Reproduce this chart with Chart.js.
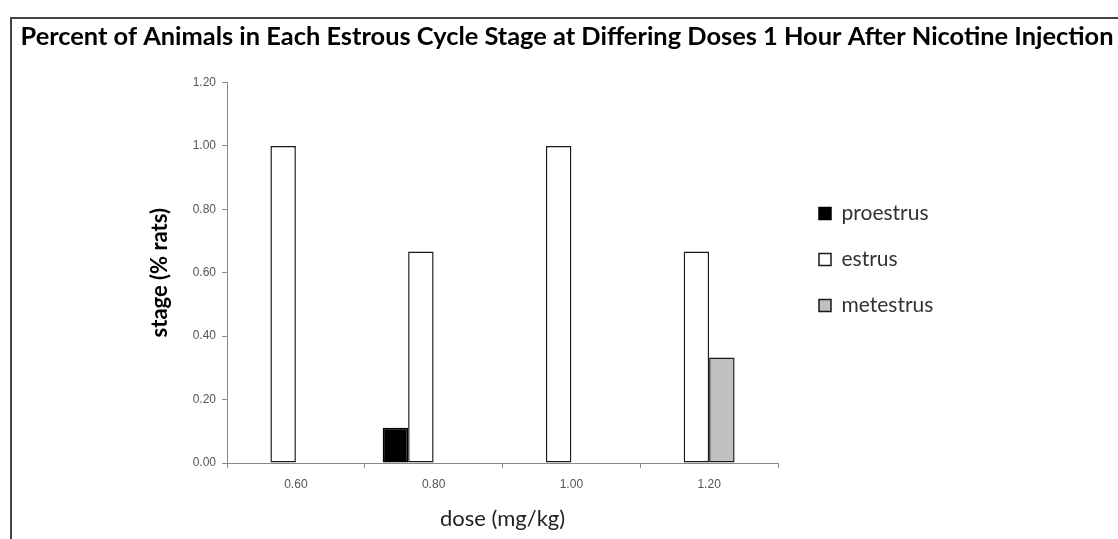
<!DOCTYPE html>
<html>
<head>
<meta charset="utf-8">
<script src="https://cdn.jsdelivr.net/npm/chart.js@4/dist/chart.umd.min.js"></script>
<style>
  html, body { margin: 0; padding: 0; background: #fff; }
  #wrap { position: relative; width: 1118px; height: 539px; overflow: hidden; }
  #frame { position: absolute; left: 10px; top: 17px; width: 1200px; height: 600px;
           border-top: 2px solid #444; border-left: 2px solid #444; pointer-events: none; }
  canvas { position: absolute; left: 0; top: 0; }
</style>
</head>
<body>
<div id="wrap">
  <canvas id="c" width="1118" height="539"></canvas>
  <div id="frame"></div>
</div>
<script>
const titleText = 'Percent of Animals in Each Estrous Cycle Stage at Differing Doses 1 Hour After Nicotine Injection';
const doses = ['0.60', '0.80', '1.00', '1.20'];
const proestrus = [0, 0.111, 0, 0];
const estrus = [1.00, 0.667, 1.00, 0.667];
const metestrus = [0, 0, 0, 0.333];
const diestrus = [0, 0, 0, 0];
const yTicks = [0, 0.2, 0.4, 0.6, 0.8, 1.0, 1.2];

const moveLegend = {
  id: 'moveLegend',
  afterLayout(chart) {
    const lg = chart.legend;
    if (!lg) return;
    const w = lg.width, h = lg.height;
    lg.left = 794; lg.right = lg.left + w;
    lg.top = 178; lg.bottom = lg.top + h;
  }
};

new Chart(document.getElementById('c'), {
  type: 'bar',
  data: {
    labels: doses,
    datasets: [
      { label: 'proestrus', data: proestrus, backgroundColor: '#000000', borderColor: '#000000', borderWidth: 1.5 },
      { label: 'estrus', data: estrus, backgroundColor: '#ffffff', borderColor: '#1a1a1a', borderWidth: 1.5 },
      { label: 'metestrus', data: metestrus, backgroundColor: '#c0c0c0', borderColor: '#1a1a1a', borderWidth: 1.5 },
      { label: 'diestrus', data: diestrus, backgroundColor: '#ffffff', borderColor: '#ffffff', borderWidth: 0 }
    ]
  },
  options: {
    responsive: false,
    animation: false,
    devicePixelRatio: 1,
    categoryPercentage: 0.74,
    barPercentage: 1.0,
    datasets: { bar: { borderSkipped: false } },
    layout: { padding: { left: 16, right: 0, top: 12, bottom: 4 } },
    plugins: {
      title: {
        display: true,
        text: titleText,
        color: '#000',
        font: { family: 'Lato', size: 25.4, weight: 'bold' },
        padding: { top: 10, bottom: 30 }
      },
      legend: {
        position: 'chartArea',
        align: 'start',
        labels: {
          filter: (item) => item.datasetIndex < 3,
          boxWidth: 12,
          boxHeight: 12,
          padding: 25,
          color: '#333',
          font: { family: 'Lato', size: 21 }
        }
      },
      tooltip: { enabled: false }
    },
    scales: {
      x: {
        grid: { display: true, drawOnChartArea: false, drawTicks: true, tickLength: 5, color: '#888', offset: true },
        border: { display: true, color: '#888', width: 1 },
        ticks: { color: '#555', font: { family: 'Liberation Sans', size: 12 }, padding: 9 },
        title: { display: true, text: 'dose (mg/kg)', color: '#222', font: { family: 'Lato', size: 22 }, padding: { top: 4, bottom: 3 } },
        afterFit(s) { s.height = 72; }
      },
      y: {
        min: 0, max: 1.2,
        afterBuildTicks(s) { s.ticks = yTicks.map(v => ({ value: v })); },
        grid: { display: true, drawOnChartArea: false, drawTicks: true, tickLength: 5, color: '#888' },
        border: { display: true, color: '#888', width: 1 },
        ticks: { color: '#555', font: { family: 'Liberation Sans', size: 12 }, padding: 6,
                 callback: (v) => Number(v).toFixed(2) },
        title: { display: true, text: 'stage (% rats)', color: '#000', font: { family: 'Lato', size: 22, weight: 'bold' }, padding: { top: 131, bottom: 4 } },
        afterFit(s) { s.width = 211; }
      },
      spacer: {
        type: 'linear',
        position: 'right',
        display: true,
        grid: { display: false, drawTicks: false },
        border: { display: false },
        ticks: { display: false },
        afterFit(s) { s.width = 340; }
      }
    }
  },
  plugins: [moveLegend]
});
</script>
</body>
</html>
